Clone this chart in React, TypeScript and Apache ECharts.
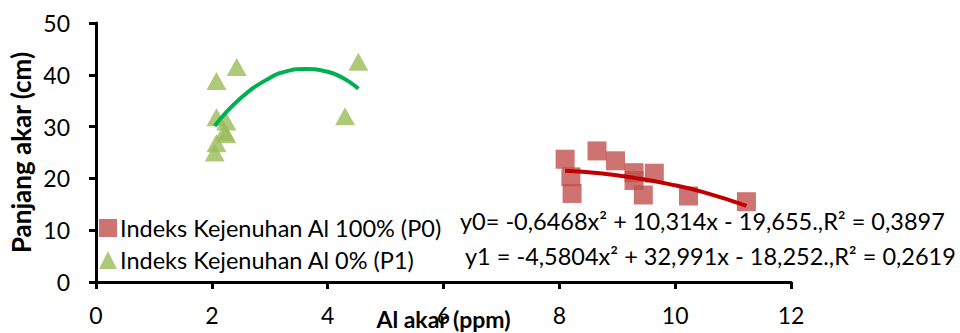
import React, { useEffect, useRef } from "react";
import * as echarts from "echarts";

const p0Name = "Indeks Kejenuhan Al 100% (P0)";
const p1Name = "Indeks Kejenuhan Al 0% (P1)";

// Al akar (ppm), Panjang akar (cm)
const p0X = [8.1, 8.2, 8.22, 8.65, 8.97, 9.29, 9.29, 9.64, 9.45, 10.23, 11.23];
const p0Y = [23.7, 20.3, 17.1, 25.3, 23.4, 21.1, 19.6, 21.0, 16.8, 16.6, 15.5];

const p1X = [2.08, 2.43, 2.08, 2.25, 2.22, 2.25, 2.08, 2.05, 4.3, 4.53];
const p1Y = [38.8, 41.5, 31.8, 31.0, 29.0, 28.5, 26.8, 25.0, 32.0, 42.5];

// trend lines
const trend0X = [8.1, 8.7, 9.3, 9.9, 10.5, 11.23];
const trend0Y = [21.5, 21.0, 20.1, 18.9, 17.3, 14.7];
const trend1X = [2.05, 2.5, 3.0, 3.3, 3.6, 4.0, 4.53];
const trend1Y = [30.1, 35.5, 39.4, 40.7, 41.1, 40.6, 37.3];

const eq0 = "y0= -0,6468x² + 10,314x - 19,655.,R² = 0,3897";
const eq1 = "y1 = -4,5804x² + 32,991x - 18,252.,R² = 0,2619";

const FONT = "Lato";
const FS = 23.5;
const TXT = "#000";

const zip = (xs: number[], ys: number[]) => xs.map((x, i) => [x, ys[i]]);

export default function App() {
  const ref = useRef<HTMLDivElement>(null);
  useEffect(() => {
    if (!ref.current) return;
    const chart = echarts.init(ref.current, null, { renderer: "svg" });
    const axisLine = { show: true, onZero: false, lineStyle: { color: "#000", width: 3 } };
    chart.setOption({
      animation: false,
      backgroundColor: "#fff",
      textStyle: { fontFamily: FONT },
      grid: { left: 96, right: 169, top: 23, bottom: 51, containLabel: false, outerBoundsMode: "none" },
      xAxis: {
        type: "value",
        min: 0,
        max: 12,
        interval: 2,
        name: "Al akar (ppm)",
        nameLocation: "middle",
        nameGap: 25,
        nameMoveOverlap: false,
        nameTextStyle: { fontFamily: FONT, fontSize: 23, fontWeight: "bold", color: "#000", verticalAlign: "top" },
        axisLine,
        axisTick: { show: true, length: 7, lineStyle: { color: "#000", width: 3 } },
        axisLabel: { fontFamily: FONT, fontSize: 23, color: TXT, margin: 21 },
        splitLine: { show: false },
      },
      yAxis: {
        type: "value",
        min: 0,
        max: 50,
        interval: 10,
        name: "Panjang akar (cm)",
        nameLocation: "middle",
        nameGap: 62,
        nameMoveOverlap: false,
        nameTextStyle: { fontFamily: FONT, fontSize: 26, fontWeight: "bold", color: "#000" },
        axisLine,
        axisTick: { show: true, length: 7, lineStyle: { color: "#000", width: 3 } },
        axisLabel: { fontFamily: FONT, fontSize: 23, color: TXT, margin: 26 },
        splitLine: { show: false },
      },
      legend: {
        orient: "vertical",
        left: 94,
        top: 211,
        itemWidth: 18,
        itemHeight: 18,
        itemGap: 8,
        data: [p0Name, p1Name],
        textStyle: { fontFamily: FONT, fontSize: FS, color: TXT, padding: [0, 0, 0, -2] },
      },
      graphic: [
        {
          type: "text",
          left: 460,
          top: 209,
          style: { text: eq0, fontFamily: FONT, fontSize: FS, fill: TXT },
        },
        {
          type: "text",
          left: 465,
          top: 244,
          style: { text: eq1, fontFamily: FONT, fontSize: FS, fill: TXT },
        },
      ],
      series: [
        {
          name: p0Name,
          type: "scatter",
          symbol: "rect",
          symbolSize: 19,
          itemStyle: { color: "#C0504D" },
          data: zip(p0X, p0Y),
          z: 2,
        },
        {
          name: p1Name,
          type: "scatter",
          symbol: "triangle",
          symbolSize: [20, 18],
          itemStyle: { color: "#9BBB59" },
          data: zip(p1X, p1Y),
          z: 2,
        },
        {
          name: "trend0",
          type: "line",
          smooth: true,
          showSymbol: false,
          symbol: "none",
          lineStyle: { color: "#C00000", width: 4 },
          data: zip(trend0X, trend0Y),
          z: 3,
        },
        {
          name: "trend1",
          type: "line",
          smooth: true,
          showSymbol: false,
          symbol: "none",
          lineStyle: { color: "#00B050", width: 4 },
          data: zip(trend1X, trend1Y),
          z: 3,
        },
      ],
    });
    return () => chart.dispose();
  }, []);
  return <div ref={ref} style={{ width: 960, height: 333, position: "absolute", left: 0, top: 0 }} />;
}
